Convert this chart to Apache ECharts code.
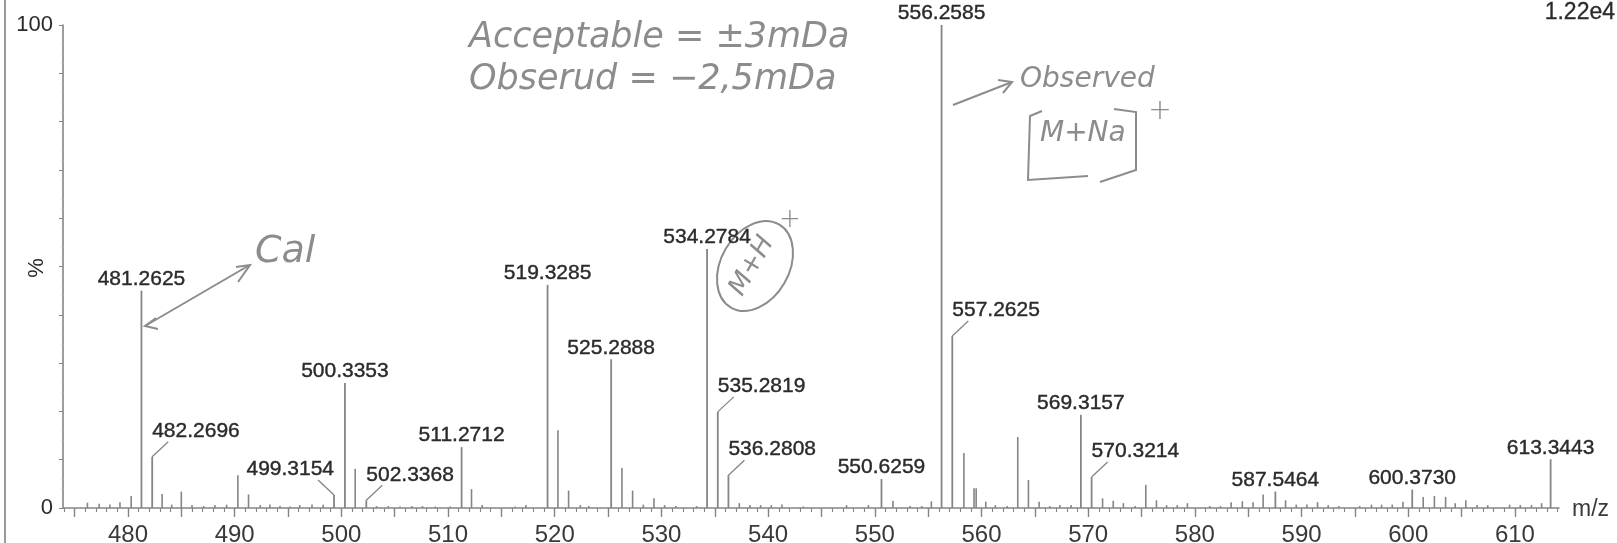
<!DOCTYPE html>
<html><head><meta charset="utf-8">
<script src="https://cdn.jsdelivr.net/npm/echarts@6/dist/echarts.min.js"></script>
<style>html,body{margin:0;padding:0;background:#fff}#c{width:1617px;height:543px}</style>
</head><body><div id="c"></div>
<script>
// ---- data ----
const labeledMz = [481.2625, 482.2696, 499.3154, 500.3353, 502.3368, 511.2712, 519.3285, 525.2888,
  534.2784, 535.2819, 536.2808, 550.6259, 556.2585, 557.2625, 569.3157, 570.3214, 587.5464, 600.3730, 613.3443];
const labeledIntensity = [45.0, 10.6, 2.7, 25.9, 1.6, 12.6, 46.2, 30.8,
  53.6, 19.9, 6.8, 6.0, 100, 35.6, 19.3, 6.4, 3.4, 3.8, 10.1];
const minorMz = [476.2, 477.3, 478.3, 479.25, 480.3, 483.2, 484.1, 485.0, 486.0, 487.1, 488.15, 489.25,
  490.3, 491.3, 492.4, 493.3, 494.25, 495.2, 496.1, 497.25, 498.3, 501.3, 503.3, 504.4, 505.5, 506.6,
  507.6, 508.8, 510.2, 512.2, 513.2, 516.3, 517.3, 520.3, 521.3, 522.4, 523.2, 526.3, 527.3, 528.3,
  529.3, 530.3, 531.35, 533.3, 537.3, 538.3, 539.3, 540.3, 541.3, 543.3, 547.35, 549.4, 551.7, 553.3,
  554.4, 555.3, 558.35, 559.3, 559.5, 560.4, 561.3, 562.4, 563.4, 564.4, 565.4, 566.4, 567.35, 568.4,
  571.35, 572.35, 573.3, 574.4, 575.4, 576.4, 577.35, 578.35, 579.3, 581.4, 582.4, 583.4, 584.45,
  585.45, 586.4, 588.5, 589.5, 590.5, 591.5, 592.5, 593.5, 595.45, 596.55, 597.5, 598.5, 599.5, 601.4,
  602.45, 603.5, 604.4, 605.4, 606.45, 607.45, 609.5, 610.5, 611.55, 612.5];
const minorIntensity = [1.1, 0.9, 0.7, 1.2, 2.5, 2.9, 0.7, 3.4, 0.6, 0.4, 0.6, 0.7,
  6.8, 2.8, 0.6, 0.7, 0.4, 0.3, 0.6, 0.7, 0.7, 8.1, 0.4, 0.4, 0.3, 0.4,
  0.4, 0.3, 0.3, 3.9, 0.6, 0.3, 0.6, 16.1, 3.6, 0.6, 0.4, 8.3, 3.6, 0.7,
  2.0, 0.6, 0.4, 0.4, 1.0, 0.6, 0.6, 0.6, 0.7, 0.3, 0.6, 0.6, 1.5, 0.4,
  0.4, 1.4, 11.4, 4.1, 4.1, 1.3, 0.6, 0.4, 14.7, 5.8, 1.3, 0.4, 0.6, 0.6,
  2.0, 1.5, 1.0, 0.4, 4.8, 1.6, 0.6, 0.6, 1.0, 0.4, 0.4, 1.2, 1.4,
  1.2, 2.8, 1.6, 0.7, 0.7, 1.2, 0.6, 0.4, 0.4, 0.7, 0.7, 0.7, 1.3, 2.3,
  2.5, 2.3, 1.0, 1.6, 0.6, 0.6, 0.7, 0.6, 0.6, 1.0];
const xTickLabels = [480, 490, 500, 510, 520, 530, 540, 550, 560, 570, 580, 590, 600, 610];
const xMajorTicks = [475, 480, 485, 490, 495, 500, 505, 510, 515, 520, 525, 530, 535, 540, 545, 550,
  555, 560, 565, 570, 575, 580, 585, 590, 595, 600, 605, 610];
const xMinorTicks = [];
for (let v = 474; v <= 614; v++) xMinorTicks.push(v);
const yTickLabels = [0, 100];
const scaleText = '1.22e4';
const xName = 'm/z';
const yName = '%';
const leaderRight = [482.2696, 502.3368, 535.2819, 536.2808, 557.2625, 570.3214];
const leaderLeft = [499.3154];

// ---- styles ----
const PEAK = '#858585';
const TXT = '#2a2a2a';
const INK = '#8c8c8c';
const FONT = '"Liberation Sans", Arial, sans-serif';
const HAND = 'italic 300 35px "DejaVu Sans", sans-serif';

const chart = echarts.init(document.getElementById('c'), null, {renderer: 'canvas'});

function peakLine(api, x, y) {
  const b = api.coord([x, 0]);
  const t = api.coord([x, y]);
  return [b, t];
}
const labelStyle = {fontSize: 21, fontFamily: FONT, fill: TXT, stroke: TXT, lineWidth: 0.4};

const option = {
  animation: false,
  backgroundColor: '#fff',
  grid: {left: 63, right: 58, top: 25, bottom: 35, containLabel: false, outerBoundsMode: 'none'},
  xAxis: [{
    type: 'value', min: 473.91, max: 614.13, position: 'bottom',
    axisLine: {show: true, lineStyle: {color: PEAK, width: 1.6}},
    axisTick: {show: true, customValues: xMajorTicks, length: 9, lineStyle: {color: PEAK, width: 1.4}},
    axisLabel: {show: true, customValues: xTickLabels, fontSize: 24, fontFamily: FONT, color: '#3a3a3a', margin: 15},
    splitLine: {show: false}
  }, {
    type: 'value', min: 473.91, max: 614.13, position: 'bottom', gridIndex: 0,
    axisLine: {show: false},
    axisTick: {show: true, customValues: xMinorTicks, length: 4, lineStyle: {color: PEAK, width: 1.1}},
    axisLabel: {show: false},
    splitLine: {show: false}
  }],
  yAxis: {
    type: 'value', min: 0, max: 100, interval: 10,
    axisLine: {show: true, lineStyle: {color: PEAK, width: 1.6}},
    axisTick: {show: true, length: 4, lineStyle: {color: PEAK}},
    minorTick: {show: true, splitNumber: 5, length: 1.5, lineStyle: {color: '#bbb'}},
    axisLabel: {
      fontSize: 22, fontFamily: FONT, color: TXT, margin: 10,
      formatter: v => yTickLabels.indexOf(v) >= 0 ? String(v) : ''
    },
    splitLine: {show: false}
  },
  series: [{
    type: 'custom', name: 'minor', xAxisIndex: 0,
    data: minorMz.map((m, i) => [m, minorIntensity[i]]),
    encode: {x: 0, y: 1},
    renderItem: function (params, api) {
      const [b, t] = peakLine(api, api.value(0), api.value(1));
      return {type: 'line', shape: {x1: b[0], y1: b[1], x2: t[0], y2: t[1]}, style: {stroke: PEAK, lineWidth: 1.6}};
    }
  }, {
    type: 'custom', name: 'labeled', xAxisIndex: 0,
    data: labeledMz.map((m, i) => [m, labeledIntensity[i]]),
    encode: {x: 0, y: 1},
    renderItem: function (params, api) {
      const x = api.value(0), y = api.value(1);
      const [b, t] = peakLine(api, x, y);
      const children = [{type: 'line', shape: {x1: b[0], y1: b[1], x2: t[0], y2: t[1]}, style: {stroke: PEAK, lineWidth: 1.8}}];
      const txt = x.toFixed(4);
      const side = leaderRight.indexOf(x) >= 0 ? 1 : (leaderLeft.indexOf(x) >= 0 ? -1 : 0);
      if (side === 0) {
        children.push({type: 'text', style: Object.assign({text: txt, x: t[0], y: t[1] - 1, align: 'center', verticalAlign: 'bottom'}, labelStyle)});
      } else {
        children.push({type: 'line', shape: {x1: t[0], y1: t[1], x2: t[0] + side * 16, y2: t[1] - 15},
          style: {stroke: PEAK, lineWidth: 1.3}});
        children.push({type: 'text', style: Object.assign({text: txt, x: t[0], y: t[1] - 15, align: side > 0 ? 'left' : 'right',
          verticalAlign: 'bottom'}, labelStyle)});
      }
      return {type: 'group', children: children};
    }
  }],
  graphic: [
    {type: 'line', shape: {x1: 5, y1: 0, x2: 5, y2: 543}, style: {stroke: '#999', lineWidth: 2}},
    {type: 'text', x: 37, y: 268, rotation: Math.PI / 2,
      style: {text: yName, fontSize: 22, fontFamily: FONT, fill: TXT, align: 'center', verticalAlign: 'middle'}},
    {type: 'text', x: 1572, y: 510,
      style: {text: xName, fontSize: 23, fontFamily: FONT, fill: '#3a3a3a', align: 'left', verticalAlign: 'middle'}},
    {type: 'text', x: 1615, y: 1,
      style: {text: scaleText, fontSize: 23, fontFamily: FONT, fill: TXT, stroke: TXT, lineWidth: 0.3, align: 'right', verticalAlign: 'top'}},
    // handwritten notes
    {type: 'text', x: 469, y: 38, style: {text: 'Acceptable = ±3mDa', font: HAND, fill: INK, verticalAlign: 'middle'}},
    {type: 'text', x: 469, y: 80, style: {text: 'Obserud = −2,5mDa', font: HAND, fill: INK, verticalAlign: 'middle'}},
    {type: 'polyline', shape: {points: [[145, 326], [248, 266]]}, style: {stroke: INK, lineWidth: 2, fill: null}},
    {type: 'polyline', shape: {points: [[156, 318], [145, 326], [158, 329]]}, style: {stroke: INK, lineWidth: 2, fill: null}},
    {type: 'polyline', shape: {points: [[236, 267], [250, 265], [238, 282]]}, style: {stroke: INK, lineWidth: 2, fill: null}},
    {type: 'text', x: 255, y: 252, style: {text: 'Cal', font: 'italic 300 38px "DejaVu Sans", sans-serif', fill: INK, verticalAlign: 'middle'}},
    {type: 'ellipse', shape: {cx: 755, cy: 266, rx: 48, ry: 34}, rotation: Math.PI / 3, originX: 755, originY: 266,
      style: {stroke: INK, lineWidth: 2, fill: null}},
    {type: 'text', x: 752, y: 266, rotation: Math.PI / 3,
      style: {text: 'M+H', font: 'italic 300 26px "DejaVu Sans", sans-serif', fill: INK, align: 'center', verticalAlign: 'middle'}},
    {type: 'text', x: 790, y: 220, style: {text: '+', font: '300 26px "DejaVu Sans", sans-serif', fill: INK, align: 'center', verticalAlign: 'middle'}},
    {type: 'polyline', shape: {points: [[953, 105], [1012, 82]]}, style: {stroke: INK, lineWidth: 2, fill: null}},
    {type: 'polyline', shape: {points: [[998, 80], [1012, 82], [1003, 93]]}, style: {stroke: INK, lineWidth: 2, fill: null}},
    {type: 'text', x: 1020, y: 80, style: {text: 'Observed', font: 'italic 300 28px "DejaVu Sans", sans-serif', fill: INK, verticalAlign: 'middle'}},
    {type: 'polyline', shape: {points: [[1042, 111], [1030, 116], [1028, 180], [1088, 176]]}, style: {stroke: INK, lineWidth: 2, fill: null}},
    {type: 'polyline', shape: {points: [[1100, 182], [1136, 170], [1136, 112], [1114, 109]]}, style: {stroke: INK, lineWidth: 2, fill: null}},
    {type: 'text', x: 1040, y: 134, style: {text: 'M+Na', font: 'italic 300 28px "DejaVu Sans", sans-serif', fill: INK, verticalAlign: 'middle'}},
    {type: 'text', x: 1160, y: 112, style: {text: '+', font: '300 28px "DejaVu Sans", sans-serif', fill: INK, align: 'center', verticalAlign: 'middle'}}
  ]
};
chart.setOption(option);
</script>
</body></html>
